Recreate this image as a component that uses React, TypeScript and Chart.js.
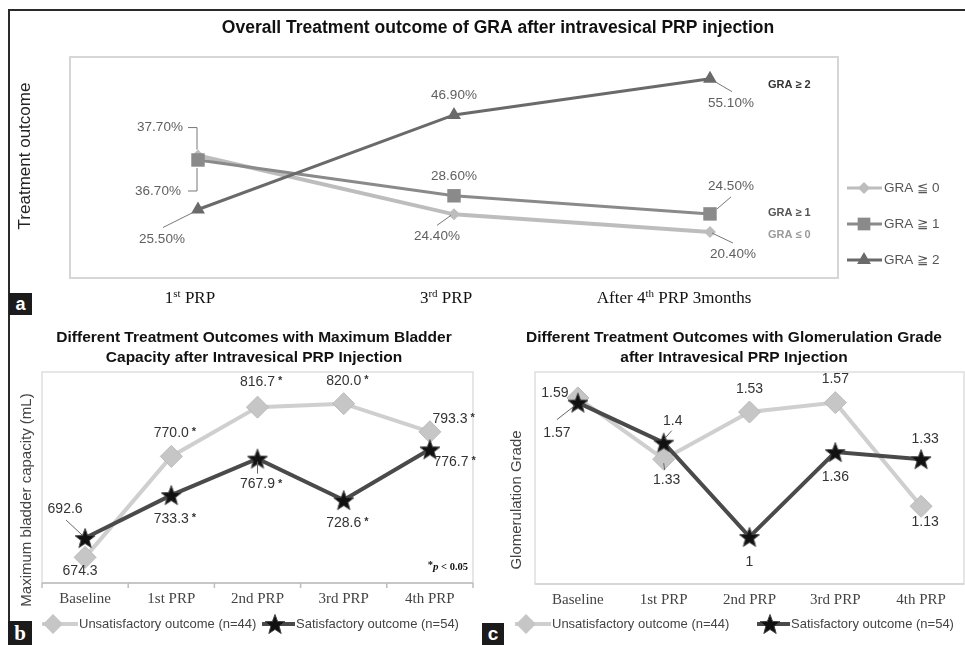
import React, { useEffect, useRef } from "react";
import { Chart, registerables } from "chart.js";
Chart.register(...registerables);

// ---------------- DATA ----------------
const titleA = "Overall Treatment outcome of GRA after intravesical PRP injection";
const yTitleA = "Treatment outcome";
const categoriesA = ["1st PRP", "3rd PRP", "After 4th PRP 3months"];
const seriesNamesA = ["GRA ≦ 0", "GRA ≧ 1", "GRA ≧ 2"];
const endLabelsA = ["GRA ≤ 0", "GRA ≥ 1", "GRA ≥ 2"];
const gra0 = [37.7, 24.4, 20.4];
const gra1 = [36.7, 28.6, 24.5];
const gra2 = [25.5, 46.9, 55.1];
const yMinA = 10;
const yMaxA = 60;

const categoriesBC = ["Baseline", "1st PRP", "2nd PRP", "3rd PRP", "4th PRP"];
const seriesNamesBC = ["Unsatisfactory outcome (n=44)", "Satisfactory outcome (n=54)"];

const titleB = ["Different Treatment Outcomes with Maximum Bladder", "Capacity after Intravesical PRP Injection"];
const yTitleB = "Maximum bladder capacity (mL)";
const capacityUnsat = [674.3, 770.0, 816.7, 820.0, 793.3];
const capacitySat = [692.6, 733.3, 767.9, 728.6, 776.7];
const capacityUnsatSig = [false, true, true, true, true];
const capacitySatSig = [false, true, true, true, true];
const yMinB = 650;
const yMaxB = 850;
const noteB = ["*", "p", " < 0.05"];

const titleC = ["Different Treatment Outcomes with Glomerulation Grade", "after Intravesical PRP Injection"];
const yTitleC = "Glomerulation Grade";
const gradeUnsat = [1.59, 1.33, 1.53, 1.57, 1.13];
const gradeSat = [1.57, 1.4, 1.0, 1.36, 1.33];
const yMinC = 0.8;
const yMaxC = 1.7;

const panelLetters = ["a", "b", "c"];

// ---------------- STYLE / LAYOUT ----------------
const SANS = '"Liberation Sans", "DejaVu Sans", Arial, sans-serif';
const SERIF = '"Liberation Serif", "DejaVu Serif", "Times New Roman", serif';

type Lab = { dx: number; dy: number; lead?: number[][] };

const labelPosA: Lab[][] = [
  [
    { dx: -38, dy: -28, lead: [[-10, -28], [-1, -28], [-1, -6]] },
    { dx: -17, dy: 22, lead: [[-17, 11], [-3, 1]] },
    { dx: 23, dy: 22, lead: [[2, 1], [23, 11]] },
  ],
  [
    { dx: -40, dy: 31, lead: [[-10, 31], [-1, 31], [-1, 8]] },
    { dx: 0, dy: -20 },
    { dx: 21, dy: -28, lead: [[21, -17], [7, -5]] },
  ],
  [
    { dx: -36, dy: 30, lead: [[-35, 18], [-3, 2]] },
    { dx: 0, dy: -20 },
    { dx: 21, dy: 25, lead: [[5, 3], [22, 13]] },
  ],
];
const xShiftA = [-8, -8, -36];

const labelPosB: Lab[][] = [
  [{ dx: -5, dy: 14 }, { dx: 0, dy: -23 }, { dx: 0, dy: -25 }, { dx: 0, dy: -23 }, { dx: 20, dy: -13 }],
  [
    { dx: -20, dy: -29, lead: [[-19, -18], [-3, -3]] },
    { dx: 0, dy: 24 },
    { dx: 0, dy: 26, lead: [[0, 3], [0, 15]] },
    { dx: 0, dy: 23 },
    { dx: 21, dy: 13 },
  ],
];

const labelPosC: Lab[][] = [
  [{ dx: -23, dy: -5 }, { dx: 3, dy: 21, lead: [[0, 4], [1, 11]] }, { dx: 0, dy: -23 }, { dx: 0, dy: -23 }, { dx: 4, dy: 16 }],
  [
    { dx: -21, dy: 31, lead: [[-21, 17], [-3, 3]] },
    { dx: 9, dy: -22, lead: [[8, -12], [1, -4]] },
    { dx: 0, dy: 25 },
    { dx: 0, dy: 25 },
    { dx: 4, dy: -20 },
  ],
];

const colorsA = ["#bdbdbd", "#8a8a8a", "#6a6a6a"];
const unsatLine = "#cfcfcf";
const unsatFill = "#c6c6c6";
const satLine = "#4a4a4a";

function makeStar(size: number): HTMLCanvasElement {
  const c = document.createElement("canvas");
  c.width = size;
  c.height = size;
  const g = c.getContext("2d")!;
  const R = size / 2 - 0.5;
  const r = R * 0.42;
  const cx = size / 2;
  const cy = size / 2 + 1;
  g.beginPath();
  for (let k = 0; k < 10; k++) {
    const ang = -Math.PI / 2 + (k * Math.PI) / 5;
    const rr = k % 2 === 0 ? R : r;
    const x = cx + rr * Math.cos(ang);
    const y = cy + rr * Math.sin(ang);
    if (k === 0) g.moveTo(x, y);
    else g.lineTo(x, y);
  }
  g.closePath();
  g.fillStyle = "#111";
  g.fill();
  g.strokeStyle = "#444";
  g.lineWidth = 1;
  g.stroke();
  return c;
}

function drawShape(ctx: CanvasRenderingContext2D, style: string, x: number, y: number, r: number, fill: string) {
  ctx.save();
  ctx.fillStyle = fill;
  ctx.beginPath();
  if (style === "rectRot") {
    ctx.moveTo(x, y - r);
    ctx.lineTo(x + r, y);
    ctx.lineTo(x, y + r);
    ctx.lineTo(x - r, y);
  } else if (style === "rect") {
    const s = r * Math.SQRT1_2;
    ctx.rect(x - s, y - s, 2 * s, 2 * s);
  } else {
    const a = (2 * Math.PI) / 3;
    for (let k = 0; k < 3; k++) {
      const px = x + Math.sin(k * a) * r;
      const py = y - Math.cos(k * a) * r;
      if (k === 0) ctx.moveTo(px, py);
      else ctx.lineTo(px, py);
    }
  }
  ctx.closePath();
  ctx.fill();
  ctx.restore();
}

function drawOrdinal(ctx: CanvasRenderingContext2D, text: string, cx: number, y: number, size: number, color: string) {
  const m = text.match(/^(.*?\d)(st|nd|rd|th)(.*)$/);
  const parts: { t: string; sup: boolean }[] = m
    ? [{ t: m[1], sup: false }, { t: m[2], sup: true }, { t: m[3], sup: false }]
    : [{ t: text, sup: false }];
  const fMain = `${size}px ${SERIF}`;
  const fSup = `${Math.round(size * 0.62)}px ${SERIF}`;
  let total = 0;
  for (const p of parts) {
    ctx.font = p.sup ? fSup : fMain;
    total += ctx.measureText(p.t).width;
  }
  let x = cx - total / 2;
  ctx.fillStyle = color;
  ctx.textAlign = "left";
  ctx.textBaseline = "alphabetic";
  for (const p of parts) {
    ctx.font = p.sup ? fSup : fMain;
    ctx.fillText(p.t, x, p.sup ? y - size * 0.38 : y);
    x += ctx.measureText(p.t).width;
  }
}

function rotatedText(ctx: CanvasRenderingContext2D, text: string, x: number, y: number, font: string, color: string) {
  ctx.save();
  ctx.translate(x, y);
  ctx.rotate(-Math.PI / 2);
  ctx.font = font;
  ctx.fillStyle = color;
  ctx.textAlign = "center";
  ctx.textBaseline = "middle";
  ctx.fillText(text, 0, 0);
  ctx.restore();
}

function leader(ctx: CanvasRenderingContext2D, px: number, py: number, pts?: number[][], color = "#777") {
  if (!pts) return;
  ctx.save();
  ctx.strokeStyle = color;
  ctx.lineWidth = 1;
  ctx.beginPath();
  pts.forEach((p, k) => (k === 0 ? ctx.moveTo(px + p[0], py + p[1]) : ctx.lineTo(px + p[0], py + p[1])));
  ctx.stroke();
  ctx.restore();
}

export default function App() {
  const refA = useRef<HTMLCanvasElement>(null);
  const refB = useRef<HTMLCanvasElement>(null);
  const refC = useRef<HTMLCanvasElement>(null);

  useEffect(() => {
    document.body.style.margin = "0";
    const star = makeStar(22);
    const charts: Chart[] = [];

    // ---------- Panel A ----------
    const decoA = {
      id: "decoA",
      beforeDatasetsDraw(chart: any) {
        const { ctx, chartArea: ca } = chart;
        ctx.save();
        ctx.strokeStyle = "#d6d6d6";
        ctx.lineWidth = 2;
        ctx.strokeRect(ca.left, ca.top, ca.right - ca.left, ca.bottom - ca.top);
        ctx.restore();
      },
      afterDatasetsDraw(chart: any) {
        const { ctx } = chart;
        ctx.save();
        ctx.font = `bold 17.5px ${SANS}`;
        ctx.fillStyle = "#111";
        ctx.textAlign = "center";
        ctx.textBaseline = "middle";
        ctx.fillText(titleA, 498, 28);
        rotatedText(ctx, yTitleA, 25, 156, `17px ${SANS}`, "#222");
        const xs = chart.scales.x;
        categoriesA.forEach((c, i) => drawOrdinal(ctx, c, xs.getPixelForValue(i) + xShiftA[i], 303, 17, "#111"));
        const series = [gra0, gra1, gra2];
        series.forEach((vals, di) => {
          const meta = chart.getDatasetMeta(di);
          vals.forEach((v, i) => {
            const pt = meta.data[i];
            const lp = labelPosA[di][i];
            leader(ctx, pt.x, pt.y, lp.lead, "#777");
            ctx.font = `13.5px ${SANS}`;
            ctx.fillStyle = "#5f5f5f";
            ctx.textAlign = "center";
            ctx.textBaseline = "middle";
            ctx.fillText(v.toFixed(2) + "%", pt.x + lp.dx, pt.y + lp.dy);
          });
        });
        const endY = [235, 213, 85];
        const endCol = ["#9a9a9a", "#555", "#333"];
        ctx.font = `bold 11px ${SANS}`;
        ctx.textAlign = "left";
        endLabelsA.forEach((t, i) => {
          ctx.fillStyle = endCol[i];
          ctx.fillText(t, 768, endY[i]);
        });
        const legY = [188, 224, 260];
        const shapes = ["rectRot", "rect", "triangle"];
        const rr = [6, 9, 8];
        seriesNamesA.forEach((n, i) => {
          ctx.strokeStyle = colorsA[i];
          ctx.lineWidth = 3;
          ctx.beginPath();
          ctx.moveTo(847, legY[i]);
          ctx.lineTo(882, legY[i]);
          ctx.stroke();
          drawShape(ctx, shapes[i], 864, legY[i], rr[i], colorsA[i]);
          ctx.font = `13.5px ${SANS}`;
          ctx.fillStyle = "#555";
          ctx.textAlign = "left";
          ctx.textBaseline = "middle";
          ctx.fillText(n, 884, legY[i]);
        });
        ctx.restore();
      },
    };

    charts.push(
      new Chart(refA.current!, {
        type: "line",
        data: {
          labels: categoriesA,
          datasets: [
            { label: seriesNamesA[0], data: gra0, borderColor: colorsA[0], backgroundColor: colorsA[0], borderWidth: 4, pointStyle: "rectRot", pointRadius: 6, pointBorderWidth: 0, order: 2, clip: false } as any,
            { label: seriesNamesA[1], data: gra1, borderColor: colorsA[1], backgroundColor: colorsA[1], borderWidth: 3, pointStyle: "rect", pointRadius: 9.5, pointBorderWidth: 0, order: 1, clip: false },
            { label: seriesNamesA[2], data: gra2, borderColor: colorsA[2], backgroundColor: colorsA[2], borderWidth: 3, pointStyle: "triangle", pointRadius: 8, pointBorderWidth: 0, order: 0, clip: false },
          ],
        },
        options: {
          animation: false,
          responsive: false,
          maintainAspectRatio: false,
          layout: { autoPadding: false, padding: { left: 70, top: 57, right: 127, bottom: 42 } },
          elements: { line: { tension: 0 } },
          scales: {
            x: { display: false, offset: true },
            y: { display: false, min: yMinA, max: yMaxA },
          },
          plugins: { legend: { display: false }, title: { display: false }, tooltip: { enabled: false } },
        },
        plugins: [decoA],
      })
    );

    // ---------- Panels B and C ----------
    function makeBC(
      canvas: HTMLCanvasElement,
      unsat: number[],
      sat: number[],
      yMin: number,
      yMax: number,
      padding: any,
      title: string[],
      titleCx: number,
      yTitle: string,
      yTitleX: number,
      pos: Lab[][],
      fmt: (v: number) => string,
      sig: boolean[][] | null,
      axisStyle: "axis" | "box",
      legX: number[],
      note: boolean
    ) {
      const deco = {
        id: "decoBC",
        beforeDatasetsDraw(chart: any) {
          const { ctx, chartArea: ca } = chart;
          ctx.save();
          ctx.strokeStyle = "#dedede";
          ctx.lineWidth = 1.5;
          ctx.strokeRect(ca.left, ca.top, ca.right - ca.left, ca.bottom - ca.top);
          if (axisStyle === "axis") {
            const xs = chart.scales.x;
            ctx.strokeStyle = "#bdbdbd";
            ctx.lineWidth = 1.5;
            ctx.beginPath();
            ctx.moveTo(ca.left, ca.bottom);
            ctx.lineTo(ca.right, ca.bottom);
            const bounds = [ca.left];
            for (let i = 0; i < unsat.length - 1; i++) bounds.push((xs.getPixelForValue(i) + xs.getPixelForValue(i + 1)) / 2);
            bounds.push(ca.right);
            bounds.forEach((b) => {
              ctx.moveTo(b, ca.bottom);
              ctx.lineTo(b, ca.bottom + 5);
            });
            ctx.stroke();
          } else {
            ctx.strokeStyle = "#d2d2d2";
            ctx.beginPath();
            ctx.moveTo(ca.left, ca.bottom);
            ctx.lineTo(ca.right, ca.bottom);
            ctx.stroke();
          }
          ctx.restore();
        },
        afterDatasetsDraw(chart: any) {
          const { ctx, chartArea: ca } = chart;
          ctx.save();
          ctx.font = `bold 15.5px ${SANS}`;
          ctx.fillStyle = "#111";
          ctx.textAlign = "center";
          ctx.textBaseline = "middle";
          ctx.fillText(title[0], titleCx, 18);
          ctx.fillText(title[1], titleCx, 38);
          rotatedText(ctx, yTitle, yTitleX, 180, `15px ${SANS}`, "#444");
          const xs = chart.scales.x;
          ctx.font = `15px ${SERIF}`;
          ctx.fillStyle = "#444";
          categoriesBC.forEach((c, i) => {
            ctx.textAlign = "center";
            ctx.textBaseline = "middle";
            ctx.fillText(c, xs.getPixelForValue(i), ca.bottom + 16);
          });
          [unsat, sat].forEach((vals, di) => {
            const meta = chart.getDatasetMeta(di);
            vals.forEach((v, i) => {
              const pt = meta.data[i];
              const lp = pos[di][i];
              leader(ctx, pt.x, pt.y, lp.lead, "#666");
              const txt = fmt(v);
              const cx = pt.x + lp.dx;
              const cy = pt.y + lp.dy;
              ctx.font = `14px ${SANS}`;
              ctx.fillStyle = "#333";
              ctx.textAlign = "center";
              ctx.textBaseline = "middle";
              ctx.fillText(txt, cx, cy);
              if (sig && sig[di][i]) {
                const w = ctx.measureText(txt).width;
                ctx.font = `bold 11px ${SANS}`;
                ctx.textAlign = "left";
                ctx.fillText("*", cx + w / 2 + 3, cy - 1);
              }
            });
          });
          if (note) {
            const y = 247;
            let x = ca.right - 5;
            const fonts = [`bold 10.5px ${SERIF}`, `bold italic 11px ${SERIF}`, `bold 10.5px ${SERIF}`];
            ctx.fillStyle = "#111";
            ctx.textBaseline = "middle";
            ctx.textAlign = "right";
            for (let k = noteB.length - 1; k >= 0; k--) {
              ctx.font = fonts[k];
              ctx.fillText(noteB[k], x, k === 0 ? y - 2 : y);
              x -= ctx.measureText(noteB[k]).width;
            }
          }
          const ly = 304;
          ctx.lineWidth = 4;
          ctx.strokeStyle = unsatLine;
          ctx.beginPath();
          ctx.moveTo(legX[0], ly);
          ctx.lineTo(legX[0] + 36, ly);
          ctx.stroke();
          drawShape(ctx, "rectRot", legX[0] + 11, ly, 10, unsatFill);
          ctx.font = `13px ${SANS}`;
          ctx.fillStyle = "#444";
          ctx.textAlign = "left";
          ctx.textBaseline = "middle";
          ctx.fillText(seriesNamesBC[0], legX[0] + 37, ly);
          ctx.strokeStyle = satLine;
          ctx.beginPath();
          ctx.moveTo(legX[1], ly);
          ctx.lineTo(legX[1] + 33, ly);
          ctx.stroke();
          ctx.drawImage(star, legX[1] + 13 - 11, ly - 11);
          ctx.fillStyle = "#444";
          ctx.fillText(seriesNamesBC[1], legX[1] + 34, ly);
          ctx.restore();
        },
      };
      return new Chart(canvas, {
        type: "line",
        data: {
          labels: categoriesBC,
          datasets: [
            { label: seriesNamesBC[0], data: unsat, borderColor: unsatLine, backgroundColor: unsatFill, pointBorderColor: "#bababa", pointBorderWidth: 1, borderWidth: 4, pointStyle: "rectRot", pointRadius: 11, order: 1, clip: false } as any,
            { label: seriesNamesBC[1], data: sat, borderColor: satLine, backgroundColor: "#111", borderWidth: 4, pointStyle: star, pointRadius: 11, order: 0, clip: false },
          ],
        },
        options: {
          animation: false,
          responsive: false,
          maintainAspectRatio: false,
          layout: { autoPadding: false, padding },
          elements: { line: { tension: 0 } },
          scales: {
            x: { display: false, offset: true },
            y: { display: false, min: yMin, max: yMax },
          },
          plugins: { legend: { display: false }, title: { display: false }, tooltip: { enabled: false } },
        },
        plugins: [deco],
      });
    }

    charts.push(
      makeBC(
        refB.current!,
        capacityUnsat,
        capacitySat,
        yMinB,
        yMaxB,
        { left: 42, top: 52, right: 9, bottom: 62 },
        titleB,
        254,
        yTitleB,
        27,
        labelPosB,
        (v) => v.toFixed(1),
        [capacityUnsatSig, capacitySatSig],
        "axis",
        [42, 262],
        true
      )
    );
    charts.push(
      makeBC(
        refC.current!,
        gradeUnsat,
        gradeSat,
        yMinC,
        yMaxC,
        { left: 53, top: 52, right: 1, bottom: 61 },
        titleC,
        252,
        yTitleC,
        35,
        labelPosC,
        (v) => String(v),
        null,
        "box",
        [33, 275],
        false
      )
    );

    return () => charts.forEach((c) => c.destroy());
  }, []);

  const letter = (t: string, l: number, tp: number, w: number, h: number, font: string) => (
    <div
      style={{
        position: "absolute",
        left: l,
        top: tp,
        width: w,
        height: h,
        background: "#1b1b1b",
        color: "#fff",
        font,
        display: "flex",
        alignItems: "center",
        justifyContent: "center",
        zIndex: 2,
      }}
    >
      {t}
    </div>
  );

  return (
    <div style={{ position: "relative", width: 965, height: 645, background: "#fff", overflow: "hidden" }}>
      <canvas ref={refA} width={965} height={320} style={{ position: "absolute", left: 0, top: 0, width: 965, height: 320 }} />
      <canvas ref={refB} width={482} height={325} style={{ position: "absolute", left: 0, top: 320, width: 482, height: 325 }} />
      <canvas ref={refC} width={483} height={325} style={{ position: "absolute", left: 482, top: 320, width: 483, height: 325 }} />
      <div style={{ position: "absolute", left: 8, top: 9, width: 957, height: 2, background: "#2a2a2a", zIndex: 2 }} />
      <div style={{ position: "absolute", left: 8, top: 9, width: 2, height: 636, background: "#2a2a2a", zIndex: 2 }} />
      {letter(panelLetters[0], 9, 293, 23, 22, `bold 18px ${SANS}`)}
      {letter(panelLetters[1], 8, 621, 24, 24, `bold 21px ${SERIF}`)}
      {letter(panelLetters[2], 482, 623, 22, 22, `bold 19px ${SANS}`)}
    </div>
  );
}
